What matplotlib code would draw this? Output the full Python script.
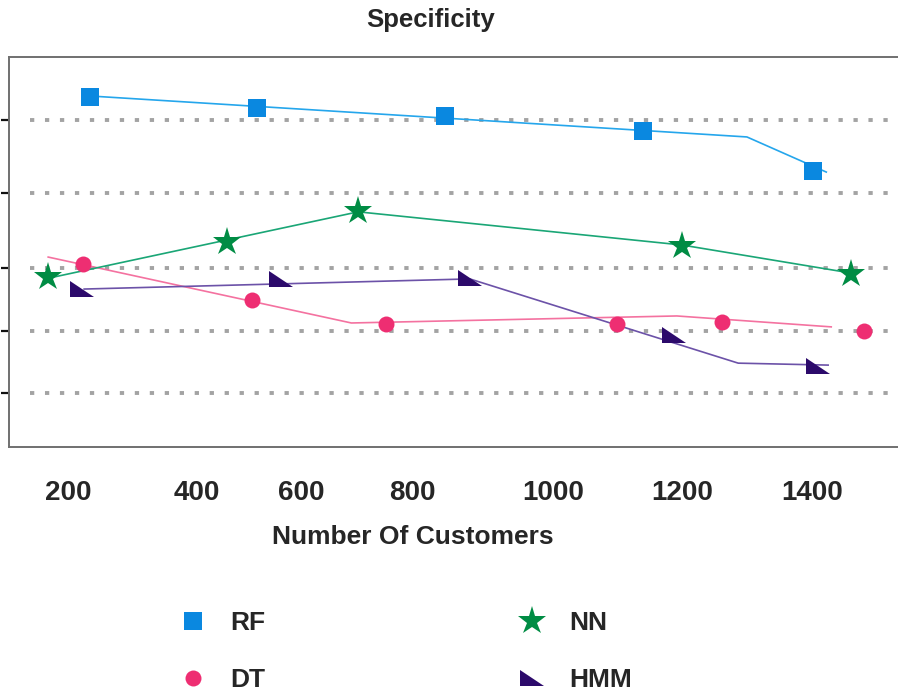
import numpy as np
import matplotlib
matplotlib.use('Agg')
import matplotlib.pyplot as plt
from matplotlib.path import Path

'''
specificity vs number of customers for four classifiers
'''

plt.rcParams['font.family'] = ['Liberation Sans', 'DejaVu Sans']
plt.rcParams['font.weight'] = 'bold'

# x tick labels and where they sit on the customer axis
tick_labels = ['200', '400', '600', '800', '1000', '1200', '1400']
tick_pos = [200, 408, 576, 756, 982, 1190, 1400]

# gridline levels (no y labels in the original)
grid_levels = [83.8, 65.1, 45.9, 29.7, 13.8]

# RF: markers and line are drawn separately in the original
rf_mx = [236, 505, 808, 1127, 1402]
rf_my = [89.7, 86.9, 84.9, 81.0, 70.8]
rf_lx = [236, 1295, 1423]
rf_ly = [90.0, 79.5, 70.5]

# NN
nn_mx = [168, 457, 668, 1190, 1463]
nn_my = [43.6, 52.6, 60.5, 51.5, 44.4]
nn_lx = [163, 668, 1190, 1463]
nn_ly = [43.1, 60.3, 51.8, 44.6]

# DT
dt_mx = [224, 497, 713, 1086, 1255, 1484]
dt_my = [46.9, 37.7, 31.5, 31.5, 32.1, 29.7]
dt_lx = [168, 657, 1182, 1431]
dt_ly = [48.7, 31.8, 33.6, 30.8]

# HMM
hmm_mx = [222, 543, 848, 1178, 1409]
hmm_my = [40.4, 43.2, 43.3, 28.7, 20.8]
hmm_lx = [226, 848, 1281, 1426]
hmm_ly = [40.5, 43.1, 21.5, 21.0]

# right triangle marker (vertical left edge, flat bottom)
tri = Path([(-1, 0.7), (-1, -0.7), (1, -0.7), (-1, 0.7)],
           [Path.MOVETO, Path.LINETO, Path.LINETO, Path.CLOSEPOLY])

series = [
    ('RF', rf_mx, rf_my, rf_lx, rf_ly, '#0a88e0', '#25a6ec', 's', 13.5),
    ('DT', dt_mx, dt_my, dt_lx, dt_ly, '#ee2e72', '#f472a0', 'o', 11.5),
    ('NN', nn_mx, nn_my, nn_lx, nn_ly, '#008c44', '#1aa676', '*', 21),
    ('HMM', hmm_mx, hmm_my, hmm_lx, hmm_ly, '#2c0a6b', '#6c52a8', tri, 17),
]

fig = plt.figure(figsize=(8.98, 6.95), dpi=100)
ax = fig.add_axes([9 / 898, 1 - 447 / 695, 1.0, 390 / 695])

for lv in grid_levels:
    ax.axhline(lv, xmin=21 / 898, xmax=1, color='#a3a3a3', lw=2.8,
               linestyle=(0, (1.1, 2.75)), dash_capstyle='butt', zorder=1)

handles = []
for name, mx, my, lx, ly, mc, lc, mk, ms in series:
    ax.plot(lx, ly, color=lc, lw=1.2, zorder=2)
    h, = ax.plot(mx, my, linestyle='none', marker=mk, markersize=ms,
                 color=mc, markeredgewidth=0, zorder=3, label=name)
    handles.append(h)

ax.set_xlim(104.8, 1553.2)
ax.set_ylim(0, 100)
ax.set_xticks(tick_pos)
ax.set_xticklabels(tick_labels, fontsize=20, color='#262626')
ax.tick_params(axis='x', length=0, pad=24)
ax.set_yticks(grid_levels)
ax.set_yticklabels([])
ax.tick_params(axis='y', length=6, width=1.6, color='#111111')

for s in ['left', 'top', 'bottom']:
    ax.spines[s].set_color('#707070')
    ax.spines[s].set_linewidth(1.4)
ax.spines['right'].set_visible(False)

ax.set_xlabel('Number Of Customers', fontsize=19, fontweight='bold',
              color='#262626')
ax.xaxis.set_label_coords(404 / 898, -0.2)

fig.text(431 / 898, 1 - 20 / 695, 'Specificity', fontsize=18.5,
         color='#262626', ha='center', va='center')

fig.legend(handles=handles, loc='upper left',
           bbox_to_anchor=(167 / 898, 1 - 598 / 695), ncol=2,
           frameon=False, fontsize=19, handlelength=1.0,
           handletextpad=0.9, columnspacing=9.6, labelspacing=1.25,
           borderpad=0, labelcolor='#262626')

fig.savefig('out.png', dpi=100)
